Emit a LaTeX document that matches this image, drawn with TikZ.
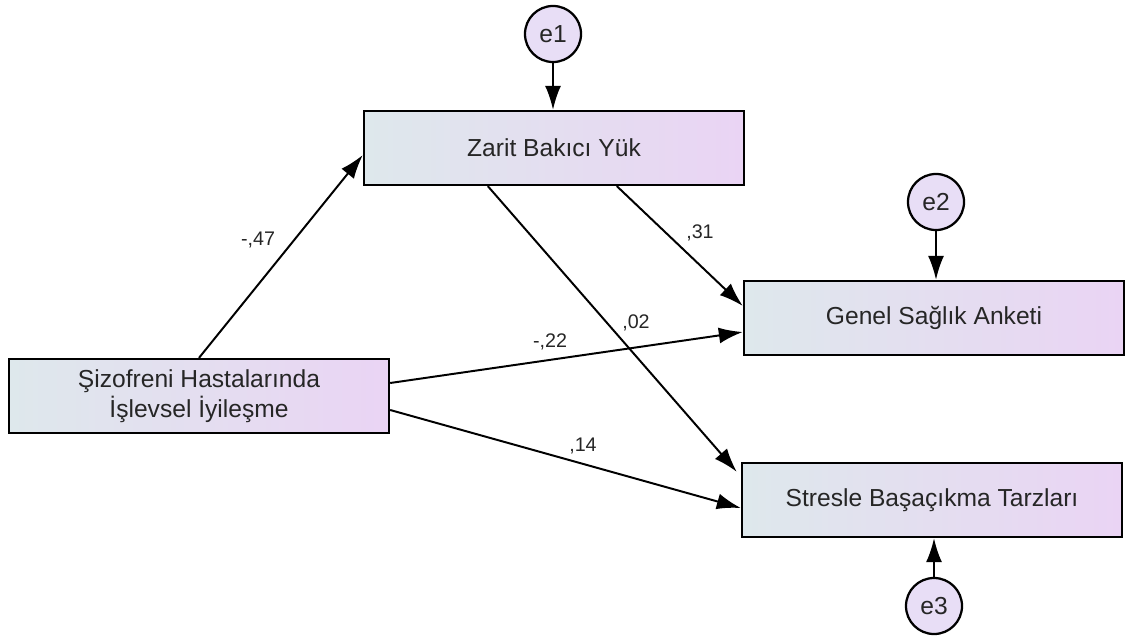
\documentclass[tikz,border=0pt]{standalone}
\usepackage{fontspec}
\setmainfont{Liberation Sans}
\usetikzlibrary{arrows.meta,calc}

\tikzset{
    kutu/.style={draw=black, line width=1.6pt, left color=solRF, right color=sagRF,
        minimum width=9.5cm, minimum height=1.85cm, align=center,
        font=\fontsize{17.5}{21}\selectfont, text=black!85},
    hata/.style={draw=black, line width=1.6pt, circle, fill=hataRF, minimum size=1.4cm,
        inner sep=0pt, font=\fontsize{17.5}{21}\selectfont, text=black!85},
    yol/.style={line width=1.4pt, -{Latex[length=6mm,width=4mm]}},
    katsayi/.style={font=\fontsize{14}{16}\selectfont, text=black!85}
}

\begin{document}
\begin{tikzpicture}[x=0.025cm, y=-0.025cm]
        \definecolor{solRF}{RGB}{222, 232, 236}
        \definecolor{sagRF}{RGB}{234, 212, 244}
        \definecolor{hataRF}{RGB}{232, 222, 246}
        \useasboundingbox (0,0) rectangle (1125,637);
        % kutular
        \node[kutu] (zarit) at (554,148) {Zarit Bakıcı Yük};
        \node[kutu] (genel) at (934,318) {Genel Sağlık Anketi};
        \node[kutu] (stres) at (932,500) {Stresle Başaçıkma Tarzları};
        \node[kutu] (siz) at (199,396) {Şizofreni Hastalarında\\İşlevsel İyileşme};
        % hatalar
        \node[hata] (e1) at (553,34) {e1};
        \node[hata] (e2) at (936,202) {e2};
        \node[hata] (e3) at (934,606) {e3};
        \draw[yol] (e1) -- (zarit.north -| e1);
        \draw[yol] (e2) -- (genel.north -| e2);
        \draw[yol] (e3) -- (stres.south -| e3);
        % yollar
        \draw[yol] (siz.north) -- ($(zarit.west)+(0,7)$);
        \draw[yol] ($(zarit.south west)+(254,0)$) -- ($(genel.west)+(0,-12)$);
        \draw[yol] ($(zarit.south west)+(125,0)$) -- ($(stres.north west)+(-4,10)$);
        \draw[yol] ($(siz.east)+(0,-13)$) -- ($(genel.west)+(0,14)$);
        \draw[yol] ($(siz.east)+(0,14)$) -- ($(stres.west)+(0,8)$);
        \node[katsayi] (k1) at (258,240) {-,47};
        \node[katsayi] (k2) at (700,233) {,31};
        \node[katsayi] (k3) at (636,323) {,02};
        \node[katsayi] (k4) at (550,342) {-,22};
        \node[katsayi] (k5) at (583,446) {,14};
    \end{tikzpicture}
\end{document}
